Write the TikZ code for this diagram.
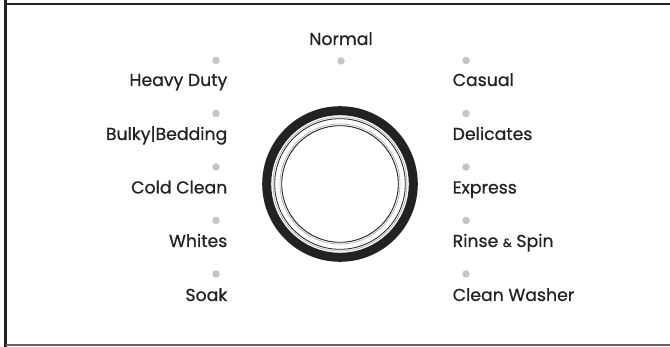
\documentclass[tikz,border=0pt]{standalone}
\usepackage{fontspec}
\setmainfont{Poppins}[UprightFeatures={FakeBold=0.6}]
\definecolor{dotgray}{HTML}{C4C5C9}
\definecolor{ink}{HTML}{222222}
\tikzset{
  lbl/.style={font=\fontsize{17.3}{17.3}\selectfont, text=ink, inner sep=0pt, anchor=base},
  lleft/.style={lbl, anchor=base east},
  lright/.style={lbl, anchor=base west},
  sdot/.style={circle, fill=dotgray, minimum size=7.5pt, inner sep=0pt},
}
\begin{document}
\begin{tikzpicture}[x=1pt,y=-1pt]
\useasboundingbox (0,0) rectangle (670,347);
\fill[white] (0,0) rectangle (670,347);
% frame
\draw[ink, line width=3pt] (5.5,0) -- (5.5,347);
\draw[ink, line width=2.5pt] (5.5,4) -- (670,4);
\draw[gray!80!black, line width=2pt] (5.5,345.5) -- (670,345.5);
% knob
\coordinate (c) at (340,184);
\draw[ink, line width=9pt] (c) circle[radius=73.3];
\draw[gray!70, line width=0.6pt] (c) circle[radius=67];
\draw[ink, line width=0.8pt] (c) circle[radius=65.3];
\draw[gray!70, line width=0.6pt] (c) circle[radius=60];
\draw[ink, line width=0.9pt] (c) circle[radius=58.3];
% top
\node[lbl] (normal) at (341,45) {Normal};
\node[sdot] (dn) at (341,61) {};
% left column
\node[sdot] (d1) at (216,60.5) {};
\node[lleft] (t1) at (227.5,86) {Heavy Duty};
\node[sdot] (d2) at (216,113.5) {};
\node[lleft] (t2) at (227.5,140) {Bulky|Bedding};
\node[sdot] (d3) at (216,167) {};
\node[lleft] (t3) at (227.5,193.5) {Cold Clean};
\node[sdot] (d4) at (216,220.5) {};
\node[lleft] (t4) at (227.5,247) {Whites};
\node[sdot] (d5) at (216,274) {};
\node[lleft] (t5) at (227.5,301) {Soak};
% right column
\node[sdot] (e1) at (466,60.5) {};
\node[lright] (s1) at (452.5,86) {Casual};
\node[sdot] (e2) at (466,113.5) {};
\node[lright] (s2) at (452.5,140) {Delicates};
\node[sdot] (e3) at (466,167) {};
\node[lright] (s3) at (452.5,193.5) {Express};
\node[sdot] (e4) at (466,220.5) {};
\node[lright] (s4) at (452.5,247) {Rinse {\fontsize{12}{12}\selectfont\&} Spin};
\node[sdot] (e5) at (466,274) {};
\node[lright] (s5) at (452.5,301) {Clean Washer};
\end{tikzpicture}
\end{document}
